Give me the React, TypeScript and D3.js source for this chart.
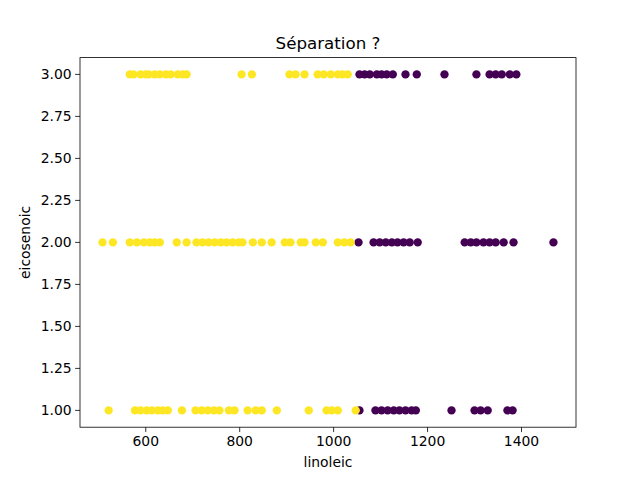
import React from "react";
import * as d3 from "d3";

const TITLE = "Séparation ?";
const X_LABEL = "linoleic";
const Y_LABEL = "eicosenoic";
const X_TICKS = [600, 800, 1000, 1200, 1400];
const Y_TICKS = [1.0, 1.25, 1.5, 1.75, 2.0, 2.25, 2.5, 2.75, 3.0];

// class 1 (purple) linoleic values per eicosenoic level
const purpleRow3 = [1055, 1066, 1077, 1092, 1102, 1113, 1126, 1153, 1177, 1236, 1304, 1332, 1345, 1358, 1375, 1389];
const purpleRow2 = [1053, 1085, 1098, 1111, 1124, 1136, 1149, 1162, 1179, 1279, 1292, 1304, 1319, 1332, 1345, 1362, 1383, 1468];
const purpleRow1 = [1055, 1089, 1102, 1115, 1128, 1140, 1153, 1166, 1175, 1251, 1300, 1313, 1328, 1370, 1381];

// class 0 (yellow)
const yellowRow3 = [566, 574, 589, 600, 606, 619, 630, 643, 653, 668, 679, 687, 804, 826, 906, 919, 938, 966, 979, 994, 1009, 1019, 1030];
const yellowRow2 = [508, 530, 566, 581, 596, 609, 619, 630, 666, 687, 708, 721, 734, 747, 760, 772, 785, 798, 806, 828, 847, 868, 896, 908, 930, 938, 962, 977, 1009, 1023, 1036];
const yellowRow1 = [521, 577, 589, 602, 613, 626, 636, 647, 677, 706, 719, 732, 745, 757, 777, 789, 817, 834, 847, 879, 947, 985, 996, 1009, 1047];

const PURPLE = "#440154";
const YELLOW = "#fde725";

type Pt = { x: number; y: number; c: string };

const points: Pt[] = [
  ...purpleRow3.map((x) => ({ x, y: 3, c: PURPLE })),
  ...purpleRow2.map((x) => ({ x, y: 2, c: PURPLE })),
  ...purpleRow1.map((x) => ({ x, y: 1, c: PURPLE })),
  ...yellowRow3.map((x) => ({ x, y: 3, c: YELLOW })),
  ...yellowRow2.map((x) => ({ x, y: 2, c: YELLOW })),
  ...yellowRow1.map((x) => ({ x, y: 1, c: YELLOW })),
];

export default function App() {
  const W = 640, H = 480;
  const L = 80, R = 576, T = 57.6, B = 427.2;
  const xs = points.map((p) => p.x);
  const [xmin, xmax] = d3.extent(xs) as [number, number];
  const xpad = (xmax - xmin) * 0.05;
  const x = d3.scaleLinear().domain([xmin - xpad, xmax + xpad]).range([L, R]);
  const y = d3.scaleLinear().domain([0.9, 3.1]).range([B, T]);
  const font = "DejaVu Sans, sans-serif";
  const fmt = d3.format(".2f");

  return (
    <svg width={W} height={H} style={{ position: "absolute", left: 0, top: 0 }} fontFamily={font}>
      <rect x={0} y={0} width={W} height={H} fill="white" />
      {points.map((p, i) => (
        <circle key={i} cx={x(p.x)} cy={y(p.y)} r={4.17} fill={p.c} />
      ))}
      <rect x={L} y={T} width={R - L} height={B - T} fill="none" stroke="black" strokeWidth={0.8} />
      {X_TICKS.map((t) => (
        <g key={t}>
          <line x1={x(t)} x2={x(t)} y1={B} y2={B + 4.86} stroke="black" strokeWidth={0.8} />
          <text x={x(t)} y={B + 18.5} fontSize={13.9} textAnchor="middle">{t}</text>
        </g>
      ))}
      {Y_TICKS.map((t) => (
        <g key={t}>
          <line x1={L - 4.86} x2={L} y1={y(t)} y2={y(t)} stroke="black" strokeWidth={0.8} />
          <text x={L - 8.3} y={y(t)} fontSize={13.9} textAnchor="end" dominantBaseline="central">{fmt(t)}</text>
        </g>
      ))}
      <text x={(L + R) / 2} y={467} fontSize={13.9} textAnchor="middle">{X_LABEL}</text>
      <text transform={`translate(30,${(T + B) / 2}) rotate(-90)`} fontSize={13.9} textAnchor="middle">{Y_LABEL}</text>
      <text x={(L + R) / 2} y={49} fontSize={16.7} textAnchor="middle">{TITLE}</text>
    </svg>
  );
}
